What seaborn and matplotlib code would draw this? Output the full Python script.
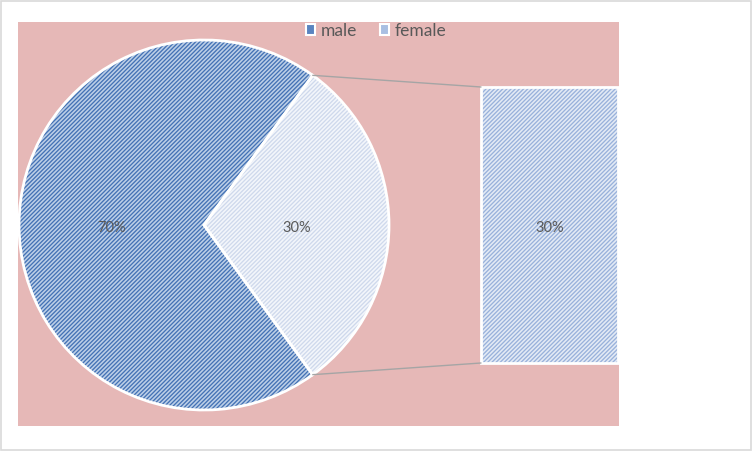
import matplotlib
matplotlib.use("Agg")
import matplotlib.pyplot as plt
import seaborn as sns
from matplotlib.patches import Patch, Rectangle, ConnectionPatch
import numpy as np

# ---- data ----
categories = ["male", "female"]
values = [70, 30]
secondary_categories = ["female"]
secondary_values = [30]

# ---- style ----
sns.set_theme(style="white")
plt.rcParams["font.family"] = ["Lato", "DejaVu Sans"]
plt.rcParams["hatch.linewidth"] = 0.95

text_color = "#595959"
plot_bg = "#E6B8B7"
male_bg, male_hatch = "#BCCFE7", "#4472B5"
female_bg, female_hatch = "#F3F6FB", "#CFD9EC"
bar_bg, bar_hatch = "#E3EAF5", "#99B1DB"

W, H = 752, 452
fig = plt.figure(figsize=(W / 100, H / 100), dpi=100)
fig.patch.set_facecolor("white")
fig.add_artist(Rectangle((1.5 / W, 1.5 / H), (W - 3) / W, (H - 3) / H,
                         transform=fig.transFigure, fill=False,
                         edgecolor="#D9D9D9", linewidth=1.2))

# plot area (pixel units, y up)
px0, px1, py_top, py_bot = 18, 619, 23, 427
ax = fig.add_axes([px0 / W, (H - py_bot) / H, (px1 - px0) / W, (py_bot - py_top) / H])
ax.set_facecolor(plot_bg)

cx, cy, r = 204, H - 226, 185
wedges, texts, autotexts = ax.pie(
    values, startangle=54, center=(cx, cy), radius=r, frame=True,
    autopct="%1.0f%%", pctdistance=0.5,
    wedgeprops=dict(linewidth=0),
    textprops=dict(color=text_color, fontsize=10.5))
for w, bg, hc in zip(wedges, [male_bg, female_bg], [male_hatch, female_hatch]):
    w.set_facecolor(bg)
    w.set_edgecolor(hc)
    w.set_hatch("////////")
for t in autotexts:
    t.set_y(t.get_position()[1] - 2)
# white borders
ax.pie(values, startangle=54, center=(cx, cy), radius=r, frame=True,
       wedgeprops=dict(fill=False, edgecolor="white", linewidth=2.0))

ax.set_xlim(px0, px1)
ax.set_ylim(H - py_bot, H - py_top)
ax.set_aspect("auto")
ax.set_xticks([])
ax.set_yticks([])
for s in ax.spines.values():
    s.set_visible(False)

# ---- secondary bar ----
bx0, bx1, by_top, by_bot = 481, 618, 88, 364
axb = fig.add_axes([bx0 / W, (H - by_bot) / H, (bx1 - bx0) / W, (by_bot - by_top) / H])
sns.barplot(x=secondary_categories, y=secondary_values, ax=axb, width=1.0,
            errorbar=None, color=bar_bg)
axb.set_xlim(-0.5, 0.5)
axb.set_ylim(0, sum(secondary_values))
axb.axis("off")
p = axb.patches[0]
p.set_facecolor(bar_bg)
p.set_edgecolor(bar_hatch)
p.set_linewidth(0)
p.set_hatch("////////")
axb.add_patch(Rectangle(p.get_xy(), p.get_width(), p.get_height(), fill=False,
                        edgecolor="white", linewidth=2.0, clip_on=False))
lbls = axb.bar_label(axb.containers[0], labels=[f"{v:.0f}%" for v in secondary_values],
                     label_type="center", color=text_color, fontsize=10.5)
for t in lbls:
    t.xyann = (0, -1.5)

# connector lines
fw = wedges[1]
for ang, yb in [(fw.theta2, p.get_y() + p.get_height()), (fw.theta1, p.get_y())]:
    a = np.deg2rad(ang)
    ptA = (cx + r * np.cos(a), cy + r * np.sin(a))
    con = ConnectionPatch(xyA=ptA, coordsA=ax.transData,
                          xyB=(p.get_x(), yb), coordsB=axb.transData,
                          color="#A5A5A5", linewidth=1.0)
    fig.add_artist(con)

# legend
handles = [Patch(facecolor="#5A84C0", edgecolor="white", linewidth=1.5, label=categories[0]),
           Patch(facecolor="#A9BFE2", edgecolor="white", linewidth=1.5, label=categories[1])]
fig.legend(handles=handles, loc="upper center", bbox_to_anchor=(0.5, 1 - 20 / H),
           ncol=2, frameon=False, fontsize=12.5, labelcolor=text_color,
           handlelength=0.55, handleheight=0.55, handletextpad=0.3,
           columnspacing=1.3, borderaxespad=0, borderpad=0.2)

fig.savefig("out.png", dpi=100, facecolor="white")
